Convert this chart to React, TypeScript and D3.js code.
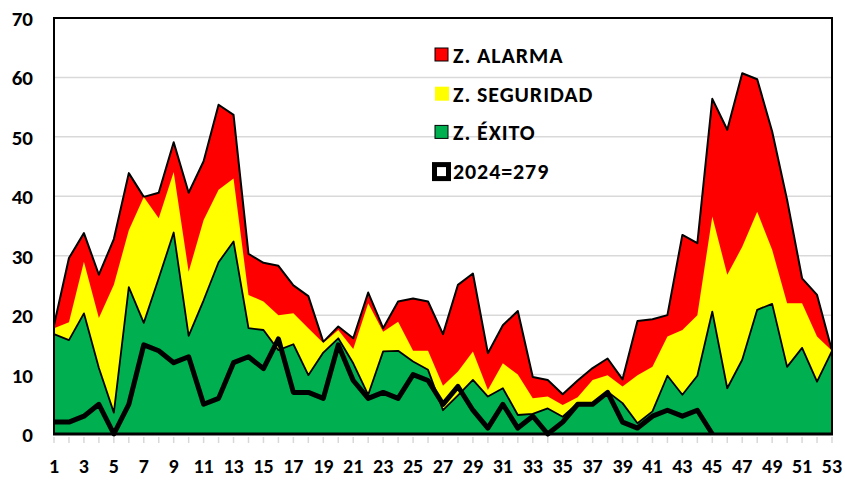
import React from "react";
import * as d3 from "d3";

const weeks = d3.range(1, 54);

// upper limits of each zone, one value per week
const alarma = [18.3, 29.6, 33.8, 26.8, 32.8, 43.9, 39.9, 40.6, 49.1, 40.6, 45.9, 55.4, 53.7, 30.3, 28.8, 28.3, 25.0, 23.2, 15.5, 18.1, 16.1, 23.8, 17.8, 22.3, 22.8, 22.3, 16.8, 25.1, 27.0, 13.6, 18.3, 20.7, 9.6, 9.1, 6.7, 9.0, 11.1, 12.7, 9.2, 19.0, 19.3, 20.0, 33.5, 32.1, 56.4, 51.2, 60.7, 59.7, 50.9, 39.4, 26.2, 23.4, 14.0];
const seguridad = [17.8, 18.8, 29.0, 19.5, 25.1, 34.3, 39.9, 36.3, 44.1, 27.3, 36.0, 41.1, 43.0, 23.4, 22.3, 20.0, 20.3, 17.8, 15.3, 17.5, 14.3, 22.0, 17.2, 18.9, 14.0, 14.0, 8.1, 10.5, 13.9, 7.4, 11.9, 10.0, 6.0, 6.3, 4.9, 6.2, 9.1, 9.9, 8.0, 9.9, 11.3, 16.4, 17.5, 20.0, 36.6, 26.8, 31.5, 37.4, 31.0, 22.0, 22.0, 16.4, 14.0];
const exito = [16.8, 15.8, 20.3, 11.1, 3.6, 24.7, 18.7, 26.2, 33.9, 16.5, 22.5, 28.9, 32.4, 17.8, 17.5, 14.1, 15.1, 9.9, 13.7, 16.1, 11.9, 6.6, 13.9, 14.0, 12.2, 10.8, 4.0, 6.5, 9.1, 6.3, 7.7, 3.2, 3.4, 4.3, 2.9, 5.2, 5.2, 7.1, 5.2, 1.8, 3.8, 9.8, 6.6, 9.8, 20.6, 7.7, 12.5, 20.9, 21.9, 11.3, 14.5, 8.8, 14.0];
// 2024 cases per week (total 279)
const casos2024 = [2, 2, 3, 5, 0, 5, 15, 14, 12, 13, 5, 6, 12, 13, 11, 16, 7, 7, 6, 15, 9, 6, 7, 6, 10, 9, 5, 8, 4, 1, 5, 1, 3, 0, 2, 5, 5, 7, 2, 1, 3, 4, 3, 4, 0];

const yTicks = [0, 10, 20, 30, 40, 50, 60, 70];
const legendItems = ["Z. ALARMA", "Z. SEGURIDAD", "Z. ÉXITO", "2024=279"];

const width = 845;
const height = 480;
const left = 54;
const right = 832;
const top = 18;
const bottom = 434;
const font = "Calibri, Lato, 'Open Sans', sans-serif";

export default function App() {
  const x = d3.scaleLinear().domain([1, 53]).range([left, right]);
  const y = d3.scaleLinear().domain([0, 70]).range([bottom, top]);

  const area = (vals: number[]) =>
    d3.area<number>().x((d, i) => x(weeks[i])).y0(y(0)).y1((d) => y(d))(vals) || "";
  const line = (vals: number[]) =>
    d3.line<number>().x((d, i) => x(weeks[i])).y((d) => y(d))(vals) || "";

  return (
    <svg width={width} height={height} style={{ position: "absolute", left: 0, top: 0 }} fontFamily={font}>
      <rect width={width} height={height} fill="#fff" />
      {yTicks.slice(1).map((t) => (
        <line key={t} x1={left} x2={right} y1={y(t)} y2={y(t)} stroke="#d9d9d9" strokeWidth={1.5} />
      ))}

      <path d={area(alarma)} fill="#ff0000" />
      <path d={line(alarma)} fill="none" stroke="#000" strokeWidth={2} strokeLinejoin="round" />
      <path d={area(seguridad)} fill="#ffff00" />
      <path d={area(exito)} fill="#00b050" />
      <path d={line(exito)} fill="none" stroke="#000" strokeWidth={1.8} strokeLinejoin="round" />
      <path d={line(casos2024)} fill="none" stroke="#000" strokeWidth={5} strokeLinejoin="round" />

      {/* frame */}
      <rect x={left} y={top} width={right - left} height={bottom - top} fill="none" stroke="#000" strokeWidth={2} />
      <line x1={left - 1} x2={right + 1} y1={bottom} y2={bottom} stroke="#000" strokeWidth={3} />

      {weeks.map((w) => (
        <line key={w} x1={x(w)} x2={x(w)} y1={bottom + 3} y2={bottom + 9} stroke="#d9d9d9" strokeWidth={1.5} />
      ))}

      {yTicks.map((t) => (
        <text key={t} x={33} y={y(t) + 8} textAnchor="end" fontSize={21} fontWeight="bold">
          {t}
        </text>
      ))}
      {weeks.filter((w) => w % 2 === 1).map((w) => (
        <text key={w} x={x(w)} y={473} textAnchor="middle" fontSize={20} fontWeight="bold">
          {w}
        </text>
      ))}

      {legendItems.map((label, i) => {
        const ly = 55 + i * 38.7;
        return (
          <g key={label}>
            {i === 0 && <rect x={435} y={ly - 7} width={13} height={13} fill="#ff0000" stroke="#000" strokeWidth={1} />}
            {i === 1 && <rect x={435} y={ly - 7} width={14} height={14} fill="#ffff00" />}
            {i === 2 && <rect x={435} y={ly - 7} width={13} height={13} fill="#00b050" stroke="#000" strokeWidth={1} />}
            {i === 3 && <rect x={434.5} y={ly - 6.5} width={14} height={14} fill="#fff" stroke="#000" strokeWidth={5} />}
            <text x={453} y={ly + 8} fontSize={22} fontWeight="bold" letterSpacing={0.9}>
              {label}
            </text>
          </g>
        );
      })}
    </svg>
  );
}
